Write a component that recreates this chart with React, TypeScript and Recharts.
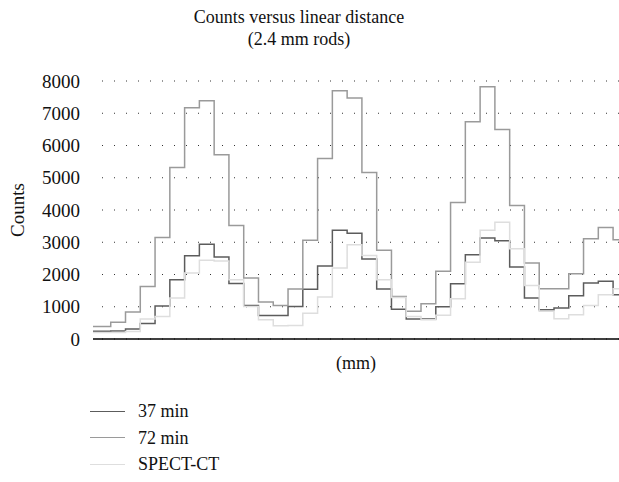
import React from 'react'
import { LineChart, Line, XAxis, YAxis, CartesianGrid } from 'recharts'

// step levels, one per rod-profile bin (left to right)
const min37 = [240, 250, 310, 480, 1020, 1840, 2580, 2940, 2540, 1720, 1040, 730, 725, 1010, 1540, 2260, 3370, 3280, 2480, 1550, 920, 620, 620, 1000, 1710, 2610, 3130, 3050, 2230, 1270, 910, 960, 1340, 1740, 1790, 1370]
const min72 = [390, 520, 840, 1630, 3150, 5320, 7170, 7390, 5710, 3520, 1890, 1150, 1040, 1550, 3060, 5600, 7700, 7470, 5160, 2750, 1320, 860, 1090, 2100, 4230, 6740, 7820, 6500, 4140, 2360, 1560, 1560, 2020, 3110, 3460, 3080]
const spect = [200, 200, 230, 620, 700, 1270, 2050, 2440, 2420, 1840, 1010, 600, 410, 420, 800, 1300, 2200, 2920, 2590, 1840, 1290, 700, 600, 740, 1250, 2380, 3370, 3620, 2800, 1660, 860, 630, 750, 1040, 1370, 1560]

const yTicks = [0, 1000, 2000, 3000, 4000, 5000, 6000, 7000, 8000]

const SERIES = [
  { key: 'min37', name: '37 min', color: '#5c5c5c' },
  { key: 'min72', name: '72 min', color: '#9a9a9a' },
  { key: 'spect', name: 'SPECT-CT', color: '#dedede' },
]

const X_START = -0.2
const X_END = 35.4

const rows = min37.map((_, i) => ({
  x: i === 0 ? X_START : i,
  min37: min37[i],
  min72: min72[i],
  spect: spect[i],
}))
rows.push({ ...rows[rows.length - 1], x: X_END })

const FONT = '"Liberation Serif", "Times New Roman", serif'

export default function App() {
  return (
    <div style={{ position: 'absolute', left: 0, top: 0, width: 619, height: 482, background: '#fff', fontFamily: FONT, color: '#111' }}>
      <div style={{ position: 'absolute', left: 0, width: 598, top: 6, textAlign: 'center', fontSize: 18, lineHeight: '22px' }}>
        Counts versus linear distance
        <br />
        (2.4 mm rods)
      </div>
      <LineChart width={619} height={482} data={rows} margin={{ top: 81, right: 0, bottom: 110, left: 0 }}>
        <CartesianGrid vertical={false} stroke="#333" strokeDasharray="1 11" strokeDashoffset={3} />
        <XAxis
          type="number"
          dataKey="x"
          domain={[X_START, X_END]}
          allowDataOverflow
          tick={false}
          tickLine={false}
          height={33}
          axisLine={{ stroke: '#000', strokeWidth: 1.5 }}
          label={{ value: '(mm)', position: 'insideBottom', offset: 3, fill: '#111', fontSize: 18, fontFamily: FONT }}
        />
        <YAxis
          domain={[0, 8000]}
          ticks={yTicks}
          width={93}
          axisLine={false}
          tickLine={false}
          tickMargin={7}
          tick={{ fill: '#111', fontSize: 19, fontFamily: FONT }}
          label={{ value: 'Counts', angle: -90, position: 'insideLeft', offset: 17, fill: '#111', fontSize: 19, fontFamily: FONT, style: { textAnchor: 'middle' } }}
        />
        {SERIES.map(s => (
          <Line
            key={s.key}
            type="stepAfter"
            dataKey={s.key}
            name={s.name}
            stroke={s.color}
            strokeWidth={1.5}
            dot={false}
            isAnimationActive={false}
          />
        ))}
      </LineChart>
      <div style={{ position: 'absolute', left: 90, top: 398, fontSize: 18, lineHeight: '26.5px' }}>
        {SERIES.map(s => (
          <div key={s.key} style={{ display: 'flex', alignItems: 'center' }}>
            <span style={{ display: 'inline-block', width: 35, height: 0, borderTop: `1.5px solid ${s.color}`, marginRight: 13 }} />
            <span>{s.name}</span>
          </div>
        ))}
      </div>
    </div>
  )
}
